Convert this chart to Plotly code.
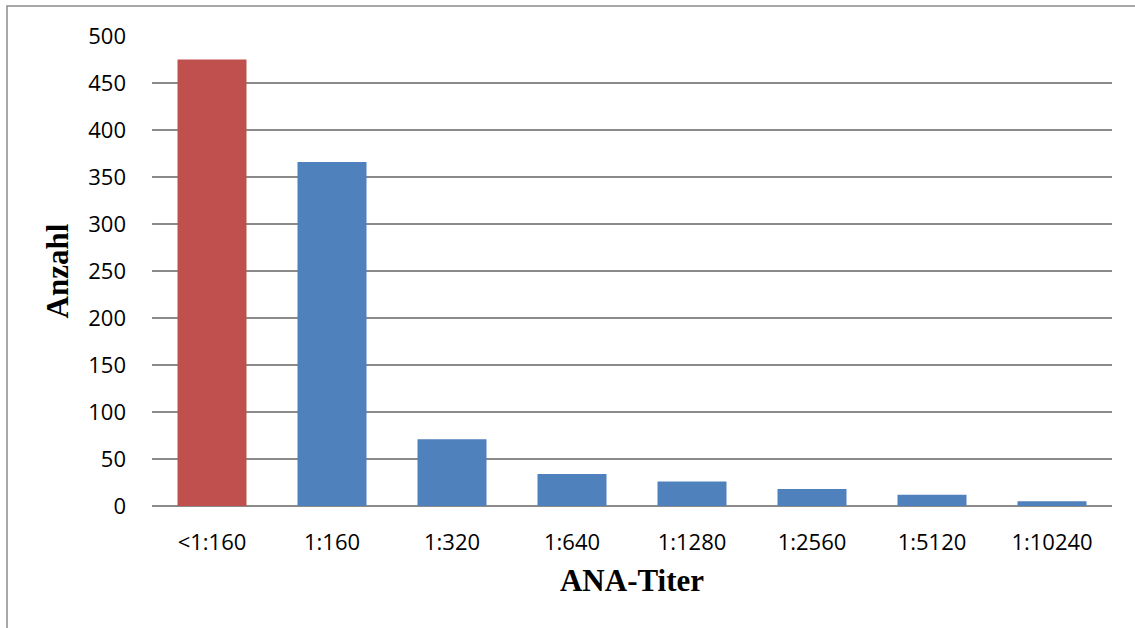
import plotly.graph_objects as go

# ANA titre distribution
titers = ["<1:160", "1:160", "1:320", "1:640", "1:1280", "1:2560", "1:5120", "1:10240"]
counts = [475, 366, 71, 34, 26, 18, 12, 5]
bar_colors = ["#C0504D"] + ["#4F81BD"] * 7

W, H = 1135, 628
L, R, T, B = 152, 23, 36, 122
pw, ph = W - L - R, H - T - B

fig = go.Figure(
    go.Bar(
        x=titers,
        y=counts,
        marker=dict(color=bar_colors, line=dict(width=0)),
        showlegend=False,
    )
)

grid = "#8A8A8A"
tick_font = dict(family="Open Sans, Calibri, sans-serif", size=22, color="#000000")
title_font = dict(family="Liberation Serif, Times New Roman, serif", size=31, color="#000000")

fig.update_layout(
    width=W,
    height=H,
    margin=dict(l=L, r=R, t=T, b=B),
    paper_bgcolor="white",
    plot_bgcolor="white",
    bargap=0.425,
    xaxis=dict(
        showgrid=False,
        showline=False,
        zeroline=False,
        tickfont=tick_font,
        ticklabelstandoff=21,
        title=dict(text="<b>ANA-Titer</b>", font=title_font, standoff=14),
    ),
    yaxis=dict(
        range=[0, 500],
        dtick=50,
        showgrid=True,
        gridcolor=grid,
        gridwidth=1.5,
        zeroline=True,
        zerolinecolor=grid,
        zerolinewidth=1.5,
        showline=False,
        tickfont=tick_font,
        ticklabelstandoff=25,
        title=dict(text="<b>Anzahl</b>", font=title_font, standoff=10),
    ),
    shapes=[
        # chart frame (left and top edges visible)
        dict(
            type="rect",
            xref="paper",
            yref="paper",
            x0=(7 - L) / pw,
            x1=(W + 10 - L) / pw,
            y0=-(H + 10 - (T + ph)) / ph,
            y1=1 + (T - 6) / ph,
            line=dict(color="#8C8C8C", width=1.5),
            layer="below",
        )
    ],
)

fig.write_html("out.html")
